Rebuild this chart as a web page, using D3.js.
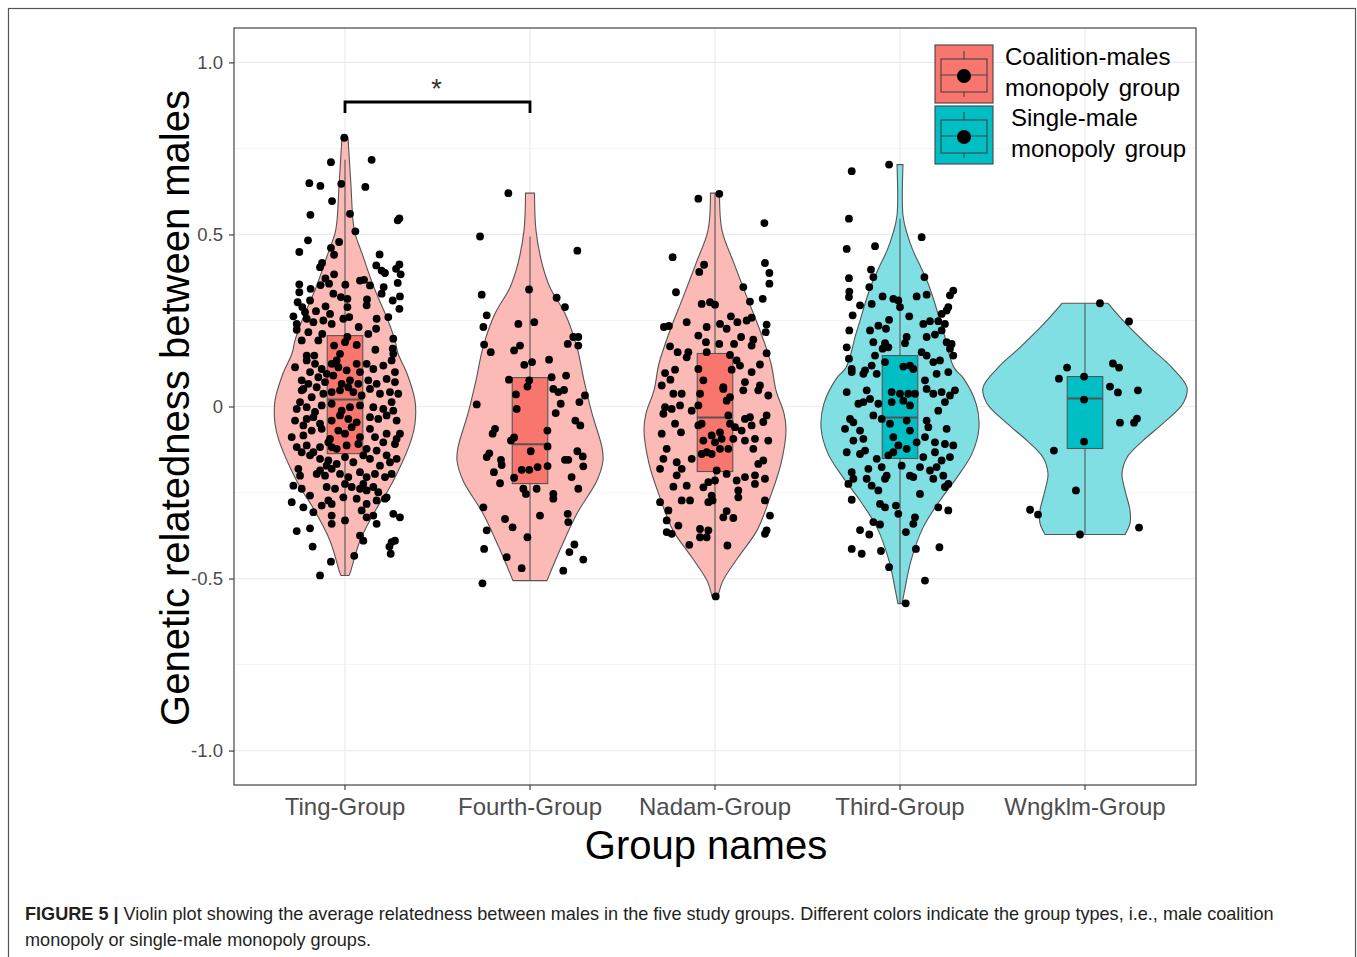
<!DOCTYPE html>
<html>
<head>
<meta charset="utf-8">
<script src="https://cdn.jsdelivr.net/npm/d3@7"></script>
<style>
  html, body { margin: 0; padding: 0; background: #ffffff; }
  svg { display: block; font-family: "Liberation Sans", Arial, Helvetica, sans-serif; }
</style>
</head>
<body>
<svg id="chart" width="1357" height="957"></svg>
<script>
// ---- data ---------------------------------------------------------------
const groups = ["Ting-Group", "Fourth-Group", "Nadam-Group", "Third-Group", "Wngklm-Group"];
const groupType = ["coalition", "coalition", "coalition", "single", "single"];
const legendLabels = [["Coalition-males", "monopoly group"], ["Single-male", "monopoly group"]];
const yTicks = [-1, -0.5, 0, 0.5, 1];
const yTickLabels = ["-1.0", "-0.5", "0", "0.5", "1.0"];
const yMinorTicks = [-0.75, -0.25, 0.25, 0.75];

// box plot statistics per group
const boxQ1 = [-0.137, -0.224, -0.189, -0.151, -0.122];
const boxMedian = [0.020, -0.110, -0.032, -0.032, 0.023];
const boxQ3 = [0.206, 0.084, 0.154, 0.148, 0.087];
const whiskerLow = [-0.491, -0.506, -0.552, -0.572, -0.372];
const whiskerHigh = [0.717, 0.494, 0.618, 0.546, 0.300];

// kernel density profiles: [relatedness, density]
const densityTing = [[0.781,0.03],[0.735,0.04],[0.64,0.06],[0.54,0.08],[0.503,0.10],[0.445,0.17],[0.346,0.29],[0.25,0.43],[0.192,0.50],[0.154,0.53],[0.096,0.62],[0.017,0.70],[-0.05,0.70],[-0.099,0.66],[-0.195,0.52],[-0.244,0.43],[-0.294,0.32],[-0.39,0.15],[-0.485,0.05],[-0.491,0.04]];
const densityFourth = [[0.62,0.045],[0.512,0.06],[0.416,0.12],[0.346,0.20],[0.27,0.35],[0.172,0.47],[0.076,0.54],[-0.02,0.62],[-0.119,0.72],[-0.157,0.73],[-0.215,0.67],[-0.311,0.47],[-0.41,0.31],[-0.506,0.17]];
const densityNadam = [[0.62,0.045],[0.512,0.07],[0.416,0.19],[0.317,0.32],[0.221,0.45],[0.125,0.56],[0.047,0.61],[-0.02,0.69],[-0.07,0.71],[-0.166,0.66],[-0.265,0.55],[-0.36,0.42],[-0.439,0.23],[-0.506,0.08],[-0.552,0.03]];
const densityThird = [[0.703,0.03],[0.555,0.03],[0.503,0.07],[0.453,0.13],[0.404,0.21],[0.358,0.28],[0.308,0.34],[0.259,0.39],[0.212,0.44],[0.113,0.54],[0.084,0.63],[0.009,0.76],[-0.061,0.79],[-0.137,0.72],[-0.206,0.57],[-0.273,0.40],[-0.352,0.23],[-0.448,0.11],[-0.544,0.04],[-0.573,0.02]];
const densityWngklm = [[0.3,0.23],[0.241,0.41],[0.172,0.65],[0.113,0.87],[0.055,1.02],[0.009,0.98],[-0.049,0.78],[-0.099,0.58],[-0.148,0.42],[-0.195,0.37],[-0.244,0.40],[-0.302,0.45],[-0.34,0.45],[-0.372,0.40]];

// individual pairs of males: [horizontal jitter (category units), relatedness]
const pointsTing = [[-0.004,0.781],[-0.076,0.71],[0.144,0.717],[-0.193,0.649],[-0.133,0.641],[-0.02,0.647],[0.11,0.638],[-0.07,0.597],[-0.187,0.557],[0.027,0.56],[0.294,0.547],[0.285,0.541],[0.056,0.509],[-0.2,0.483],[-0.032,0.478],[-0.247,0.449],[-0.076,0.461],[-0.059,0.441],[0.187,0.442],[-0.124,0.417],[-0.135,0.405],[0.169,0.41],[0.198,0.395],[0.216,0.388],[0.294,0.413],[0.276,0.4],[0.301,0.384],[-0.059,0.384],[-0.106,0.372],[-0.086,0.357],[0.081,0.366],[0.103,0.368],[0.135,0.352],[0.002,0.354],[-0.132,0.353],[-0.247,0.355],[0.285,0.359],[-0.186,0.342],[-0.247,0.332],[-0.063,0.328],[0.209,0.347],[0.198,0.328],[-0.022,0.318],[0.119,0.311],[-0.256,0.303],[-0.189,0.308],[0.013,0.313],[0.297,0.32],[0.258,0.308],[-0.231,0.289],[-0.105,0.291],[0.013,0.289],[0.117,0.294],[0.294,0.284],[-0.216,0.274],[-0.157,0.277],[-0.081,0.269],[-0.279,0.262],[-0.207,0.255],[-0.117,0.25],[-0.009,0.255],[0.023,0.26],[0.171,0.255],[0.234,0.26],[-0.261,0.24],[-0.171,0.245],[-0.072,0.24],[0.074,0.231],[-0.261,0.223],[-0.198,0.216],[-0.123,0.211],[0.126,0.211],[0.168,0.226],[0.261,0.197],[-0.234,0.192],[-0.144,0.192],[0.013,0.202],[-0.059,0.177],[0,0.187],[0.063,0.179],[0.164,0.165],[0.258,0.168],[-0.207,0.148],[-0.166,0.148],[-0.027,0.153],[0.261,0.153],
  [-0.27,0.114],[-0.207,0.134],[-0.162,0.124],[-0.126,0.109],[-0.072,0.124],[-0.036,0.114],[0.009,0.105],[0.063,0.124],[0.081,0.1],[0.117,0.124],[0.153,0.109],[0.207,0.119],[0.252,0.134],[0.27,0.1],[-0.189,0.1],[-0.099,0.095],[-0.045,0.134],
  [-0.234,0.076],[-0.198,0.066],[-0.144,0.085],[-0.108,0.071],[-0.063,0.09],[-0.018,0.066],[0.027,0.076],[0.072,0.066],[0.126,0.076],[0.171,0.066],[0.225,0.08],[0.27,0.071],[-0.225,0.051],[-0.153,0.056],[0.018,0.056],
  [-0.18,0.027],[-0.117,0.037],[-0.072,0.042],[-0.027,0.047],[0.045,0.042],[0.09,0.032],[0.135,0.051],[0.189,0.037],[0.243,0.042],[0.288,0.037],[-0.234,0.047],
  [-0.261,-0.007],[-0.207,-0.002],[-0.162,-0.016],[-0.126,0.003],[-0.072,0.008],[-0.018,-0.012],[0.027,-0.002],[0.081,0.003],[0.153,-0.002],[0.207,-0.007],[0.252,0.013],[0.261,-0.012],[-0.243,0.013],
  [-0.27,-0.041],[-0.207,-0.036],[-0.171,-0.031],[-0.135,-0.05],[-0.072,-0.041],[-0.027,-0.026],[0.018,-0.036],[0.063,-0.046],[0.135,-0.031],[0.18,-0.036],[0.225,-0.026],[0.279,-0.041],[-0.225,-0.055],
  [-0.288,-0.089],[-0.225,-0.084],[-0.18,-0.07],[-0.126,-0.065],[-0.081,-0.094],[-0.036,-0.07],[0,-0.079],[0.036,-0.06],[0.081,-0.089],[0.135,-0.065],[0.162,-0.089],[0.225,-0.079],[0.297,-0.079],[0.279,-0.094],
  [-0.261,-0.118],[-0.207,-0.113],[-0.135,-0.118],[-0.09,-0.104],[-0.045,-0.123],[0.009,-0.113],[0.072,-0.109],[0.117,-0.123],[0.171,-0.128],[0.207,-0.104],[0.27,-0.109],[-0.234,-0.133],[-0.171,-0.133],[-0.072,-0.118],
  [-0.252,-0.181],[-0.189,-0.142],[-0.135,-0.152],[-0.09,-0.157],[-0.045,-0.167],[0,-0.147],[0.045,-0.162],[0.099,-0.142],[0.135,-0.152],[0.189,-0.172],[0.243,-0.162],[0.225,-0.142],[0.279,-0.152],[-0.099,-0.172],
  [-0.243,-0.201],[-0.153,-0.196],[-0.108,-0.201],[-0.072,-0.181],[-0.027,-0.196],[0.018,-0.205],[0.081,-0.191],[0.117,-0.205],[0.162,-0.196],[0.216,-0.205],[0.252,-0.196],[-0.135,-0.186],
  [-0.279,-0.23],[-0.234,-0.239],[-0.189,-0.259],[-0.099,-0.234],[-0.054,-0.239],[0,-0.225],[0.036,-0.234],[0.081,-0.239],[0.117,-0.244],[0.153,-0.234],[0.18,-0.249],[0.225,-0.264],[0.099,-0.225],
  [-0.288,-0.278],[-0.225,-0.293],[-0.126,-0.288],[-0.09,-0.273],[-0.072,-0.283],[-0.009,-0.264],[0.063,-0.268],[0.117,-0.283],[0.171,-0.273],[0.216,-0.268],
  [-0.171,-0.307],[-0.072,-0.317],[-0.072,-0.341],[0,-0.331],[0.09,-0.302],[0.117,-0.322],[0.153,-0.317],[0.171,-0.341],[0.261,-0.312],[0.297,-0.322],
  [-0.261,-0.362],[-0.189,-0.354],[0.081,-0.375],[0.099,-0.39],[0.252,-0.394],[0.27,-0.39],[-0.175,-0.407],[0.24,-0.407],[0.247,-0.428],[-0.076,-0.451],[0.05,-0.434],[-0.135,-0.491]];

const pointsFourth = [[-0.117,0.62],[-0.27,0.494],[0.256,0.453],[-0.261,0.325],[-0.005,0.34],[0.144,0.316],[0.189,0.289],[-0.234,0.265],[-0.252,0.231],[-0.063,0.24],[0.023,0.245],[-0.248,0.18],[-0.212,0.158],[-0.054,0.177],[-0.086,0.163],[0.204,0.182],[0.234,0.202],[0.261,0.202],[0.261,0.177],[-0.031,0.121],[0.011,0.129],[0.103,0.136],[-0.114,0.078],[-0.004,0.076],[-0.014,0.058],[0.117,0.085],[0.195,0.09],[0.126,0.051],[0.153,0.042],[0.184,0.048],[0.297,0.032],[-0.076,0.035],[-0.288,0.006],[-0.072,-0.007],[0.139,-0.019],[0.166,0.008],[0.267,0.013],[-0.189,-0.065],[-0.202,-0.079],[-0.103,-0.099],[0.094,-0.07],[0.245,-0.041],[0.272,-0.055],[-0.22,-0.136],[-0.234,-0.147],[-0.157,-0.155],[-0.153,-0.17],[-0.195,-0.191],[-0.162,-0.223],[-0.086,-0.207],[-0.045,-0.184],[-0.004,-0.184],[0.041,-0.176],[0.095,-0.173],[0.095,-0.116],[0.004,-0.13],[-0.086,-0.09],[0.189,-0.155],[0.207,-0.155],[0.256,-0.13],[0.285,-0.145],[0.288,-0.174],[0.225,-0.205],[0.261,-0.239],[-0.036,-0.239],[-0.022,-0.254],[0.036,-0.239],[0.126,-0.254],[0.126,-0.268],[-0.252,-0.293],[-0.135,-0.327],[-0.094,-0.351],[-0.234,-0.36],[0.054,-0.317],[0.204,-0.312],[0.207,-0.336],[-0.014,-0.38],[-0.248,-0.414],[-0.126,-0.438],[-0.045,-0.47],[0.24,-0.401],[0.213,-0.423],[0.288,-0.445],[0.18,-0.477],[-0.257,-0.514]];

const pointsNadam = [[0.023,0.618],[-0.09,0.604],[0.267,0.533],[-0.229,0.434],[-0.059,0.412],[-0.085,0.391],[0.27,0.417],[0.294,0.388],[0.294,0.357],[-0.211,0.332],[0.153,0.347],[-0.072,0.298],[-0.027,0.303],[0,0.296],[0.189,0.305],[0.258,0.313],[-0.276,0.231],[-0.249,0.234],[-0.153,0.245],[-0.045,0.231],[0.027,0.24],[0.063,0.226],[0.086,0.262],[0.121,0.245],[0.171,0.25],[0.198,0.258],[0.279,0.238],[0.274,0.216],[-0.09,0.206],[-0.049,0.187],[0.023,0.182],[0.103,0.182],[0.141,0.202],[0.207,0.194],[0.198,0.177],[-0.243,0.175],[-0.202,0.158],[-0.144,0.158],[-0.153,0.143],[-0.045,0.158],[0.081,0.15],[0.117,0.134],[0.279,0.155],[0.243,0.122],[-0.27,0.097],[-0.216,0.107],[-0.241,0.078],[-0.09,0.109],[0.09,0.107],[0.135,0.119],[0.198,0.1],[0.162,0.071],[0.243,0.061],[-0.288,0.061],[-0.063,0.076],[0.045,0.056],
  [-0.225,0.037],[-0.18,0.037],[-0.081,0.037],[0.045,0.051],[0.081,0.027],[0.153,0.047],[0.234,0.047],[0.288,0.032],[-0.27,-0.002],[-0.234,-0.007],[-0.189,0.003],[-0.126,-0.012],[-0.09,0.003],[0.063,0.017],[-0.279,-0.021],[0.072,-0.026],[0.162,-0.036],[0.189,-0.031],[0.279,-0.026],[-0.216,-0.05],[-0.09,-0.055],[-0.072,-0.05],[0.081,-0.05],[0.108,-0.06],[0.144,-0.07],[0.198,-0.055],[0.261,-0.045],[-0.288,-0.079],[-0.184,-0.075],[-0.018,-0.084],[0.027,-0.075],[-0.063,-0.099],[0,-0.104],[0.036,-0.094],[0.099,-0.094],[0.162,-0.099],[0.216,-0.094],[0.288,-0.099],[-0.261,-0.123],[-0.045,-0.133],[0.027,-0.123],[0.072,-0.123],[0.207,-0.123],[-0.279,-0.152],[-0.207,-0.162],[-0.126,-0.152],[-0.072,-0.138],[-0.018,-0.138],[0.234,-0.167],[0.261,-0.157],[-0.297,-0.181],[-0.18,-0.181],[0.009,-0.186],[0.063,-0.196],[0.162,-0.205],[0.216,-0.2],[-0.207,-0.2],[-0.225,-0.233],[-0.153,-0.23],[-0.063,-0.235],[-0.036,-0.22],[0,-0.215],[0.117,-0.215],[0.216,-0.225],[0.27,-0.21],[0.126,-0.244],[-0.018,-0.259],[0.126,-0.264],[-0.297,-0.278],[-0.18,-0.273],[-0.135,-0.273],[-0.036,-0.278],[-0.013,-0.273],[0.27,-0.273],[-0.252,-0.302],[0.063,-0.304],[0.045,-0.322],[0.099,-0.324],[0.297,-0.317],[-0.261,-0.331],[-0.198,-0.346],[-0.261,-0.365],[-0.234,-0.37],[-0.081,-0.356],[-0.036,-0.36],[-0.081,-0.38],[-0.045,-0.38],[0.279,-0.36],[0.27,-0.37],[-0.139,-0.402],[0.067,-0.404],[0.004,-0.552]];

const pointsThird = [[-0.059,0.703],[-0.261,0.684],[-0.276,0.546],[0.117,0.492],[-0.288,0.458],[-0.135,0.466],[-0.157,0.398],[-0.144,0.376],[-0.276,0.373],[0.132,0.376],[-0.166,0.347],[-0.274,0.334],[-0.276,0.318],[-0.094,0.32],[-0.036,0.313],[-0.009,0.308],[0,0.289],[0.09,0.32],[0.144,0.325],[0.288,0.337],[0.27,0.323],[-0.216,0.294],[-0.153,0.298],[0.261,0.289],[0.252,0.279],[-0.256,0.265],[0.05,0.262],[-0.059,0.252],[0.225,0.269],[0.126,0.24],[0.162,0.248],[0.207,0.248],[0.243,0.24],[-0.117,0.235],[-0.076,0.226],[-0.274,0.221],[-0.162,0.221],[0.225,0.221],[0.036,0.202],[0.144,0.202],[0.189,0.209],[0.027,0.184],[-0.144,0.187],[-0.081,0.184],[-0.063,0.172],[0.252,0.187],[0.279,0.182],[0.27,0.168],[-0.288,0.172],[-0.135,0.148],[-0.094,0.168],[0.117,0.158],[0.144,0.148],[0.288,0.148],[-0.276,0.139],[0.18,0.129],[0.216,0.134],[-0.153,0.119],[-0.081,0.129],[0.018,0.116],[0.054,0.119],[-0.261,0.109],[-0.189,0.105],
  [-0.261,0.1],[-0.198,0.095],[-0.126,0.095],[0.072,0.109],[0.135,0.076],[0.198,0.095],[0.261,0.1],[0.297,0.047],[-0.288,0.042],[-0.18,0.047],[-0.045,0.042],[0,0.037],[0.045,0.037],[0.081,0.037],[0.144,0.051],[0.18,0.037],[0.225,0.042],[0.27,0.032],[-0.225,0.008],[-0.198,0.013],[-0.162,0.022],[-0.117,0.008],[-0.045,0.013],[0.018,0.017],[0.054,0.003],[0.207,-0.012],[0.243,0.013],[-0.27,-0.036],[-0.252,-0.046],[-0.144,-0.026],[-0.099,-0.036],[-0.054,-0.05],[0.036,-0.041],[0.054,-0.07],[0.144,-0.041],[0.153,-0.06],[0.252,-0.065],[-0.297,-0.065],[-0.216,-0.07],[-0.252,-0.099],[-0.198,-0.094],[-0.036,-0.089],[-0.009,-0.113],[0.036,-0.123],[0.09,-0.104],[0.135,-0.089],[0.189,-0.104],[0.243,-0.109],[0.288,-0.113],[-0.288,-0.133],[-0.216,-0.138],[-0.189,-0.128],[-0.126,-0.152],[-0.063,-0.142],[-0.036,-0.133],[0.189,-0.133],[0.126,-0.147],[0.225,-0.157],[0.27,-0.147],[-0.261,-0.191],[-0.171,-0.181],[-0.099,-0.176],[-0.072,-0.201],[0.009,-0.172],[0.054,-0.201],[0.108,-0.176],[0.162,-0.186],[0.198,-0.176],[0.234,-0.201],[-0.18,-0.21],[-0.252,-0.21],[-0.153,-0.23],[-0.081,-0.21],[0.072,-0.205],[0.18,-0.21],[0.243,-0.234],[0.261,-0.225],[-0.279,-0.225],[-0.117,-0.244],[0.108,-0.254],[-0.261,-0.271],[-0.108,-0.283],[-0.081,-0.293],[-0.022,-0.288],[-0.009,-0.312],[0.207,-0.293],[0.261,-0.302],[-0.144,-0.336],[-0.108,-0.343],[0.081,-0.322],[0.072,-0.341],[-0.216,-0.359],[-0.166,-0.372],[0.032,-0.365],[-0.261,-0.414],[-0.207,-0.428],[-0.103,-0.42],[0.086,-0.414],[0.213,-0.409],[-0.059,-0.467],[0.135,-0.506],[0.031,-0.572]];

const pointsWngklm = [[0.081,0.3],[0.238,0.247],[-0.097,0.113],[-0.141,0.081],[-0.005,0.087],[0.151,0.125],[0.184,0.113],[0.135,0.058],[0.178,0.041],[0.286,0.047],[-0.005,0.02],[0.189,-0.047],[0.265,-0.047],[0.281,-0.035],[-0.005,-0.102],[-0.168,-0.128],[-0.049,-0.244],[-0.297,-0.3],[-0.254,-0.314],[-0.027,-0.372],[0.292,-0.352]];

const densities = [densityTing, densityFourth, densityNadam, densityThird, densityWngklm];
const points = [pointsTing, pointsFourth, pointsNadam, pointsThird, pointsWngklm];

// ---- drawing ------------------------------------------------------------
const fillViolin = { coalition: "#FBBAB6", single: "#80DFE2" };
const fillBox = { coalition: "#F8766D", single: "#00BFC4" };
const outline = "#555555";

const svg = d3.select("#chart");
const panel = { left: 234, right: 1196, top: 28, bottom: 785 };

const x = d3.scaleBand().domain(groups)
  .range([panel.left, panel.right]).paddingInner(0).paddingOuter(0.1);
const cx = g => x(g) + x.bandwidth() / 2;
const y = d3.scaleLinear().domain([-1.1, 1.1]).range([panel.bottom, panel.top]);
const halfWidth = d3.scaleLinear().domain([0, 1]).range([0, 100]);
const boxHalf = 0.096 * x.step();

// outer figure frame
svg.append("rect").attr("x", 8.5).attr("y", 8.5).attr("width", 1347).attr("height", 960)
  .attr("fill", "none").attr("stroke", "#555").attr("stroke-width", 1.2);

// grid
const grid = svg.append("g");
grid.selectAll(".minor").data(yMinorTicks).join("line")
  .attr("x1", panel.left).attr("x2", panel.right)
  .attr("y1", d => y(d)).attr("y2", d => y(d))
  .attr("stroke", "#F0F0F0").attr("stroke-width", 0.8);
grid.selectAll(".major").data(yTicks).join("line")
  .attr("x1", panel.left).attr("x2", panel.right)
  .attr("y1", d => y(d)).attr("y2", d => y(d))
  .attr("stroke", "#EBEBEB").attr("stroke-width", 1.2);
grid.selectAll(".vert").data(groups).join("line")
  .attr("x1", d => cx(d)).attr("x2", d => cx(d))
  .attr("y1", panel.top).attr("y2", panel.bottom)
  .attr("stroke", "#EBEBEB").attr("stroke-width", 1.2);

// violins
groups.forEach((g, i) => {
  const c = cx(g);
  const area = d3.area()
    .y(d => y(d[0]))
    .x0(d => c - halfWidth(d[1]))
    .x1(d => c + halfWidth(d[1]))
    .curve(d3.curveCatmullRom.alpha(0.5));
  svg.append("path").datum(densities[i]).attr("d", area)
    .attr("fill", fillViolin[groupType[i]])
    .attr("stroke", outline).attr("stroke-width", 1.1);
});

// box plots
groups.forEach((g, i) => {
  const c = cx(g);
  const b = svg.append("g");
  b.append("line").attr("x1", c).attr("x2", c)
    .attr("y1", y(whiskerHigh[i])).attr("y2", y(boxQ3[i]))
    .attr("stroke", outline).attr("stroke-width", 1.1);
  b.append("line").attr("x1", c).attr("x2", c)
    .attr("y1", y(boxQ1[i])).attr("y2", y(whiskerLow[i]))
    .attr("stroke", outline).attr("stroke-width", 1.1);
  b.append("rect").attr("x", c - boxHalf).attr("width", 2 * boxHalf)
    .attr("y", y(boxQ3[i])).attr("height", y(boxQ1[i]) - y(boxQ3[i]))
    .attr("fill", fillBox[groupType[i]])
    .attr("stroke", outline).attr("stroke-width", 1.1);
  b.append("line").attr("x1", c - boxHalf).attr("x2", c + boxHalf)
    .attr("y1", y(boxMedian[i])).attr("y2", y(boxMedian[i]))
    .attr("stroke", outline).attr("stroke-width", 2);
});

// jittered points
groups.forEach((g, i) => {
  const c = cx(g);
  svg.append("g").selectAll("circle").data(points[i]).join("circle")
    .attr("cx", d => c + d[0] * x.step())
    .attr("cy", d => y(d[1]))
    .attr("r", 3.9)
    .attr("fill", "#000");
});

// panel border
svg.append("rect").attr("x", panel.left).attr("y", panel.top)
  .attr("width", panel.right - panel.left).attr("height", panel.bottom - panel.top)
  .attr("fill", "none").attr("stroke", "#333").attr("stroke-width", 1.1);

// axes
const yAxis = svg.append("g").attr("transform", `translate(${panel.left},0)`)
  .call(d3.axisLeft(y).tickValues(yTicks).tickSize(5).tickPadding(6)
    .tickFormat((d, i) => yTickLabels[i]));
yAxis.select(".domain").remove();
yAxis.selectAll(".tick line").attr("stroke", "#333").attr("stroke-width", 1.1);
yAxis.selectAll(".tick text").attr("fill", "#4D4D4D").attr("font-size", 18.5)
  .attr("font-family", "Liberation Sans, Arial, sans-serif");

const xAxis = svg.append("g").attr("transform", `translate(0,${panel.bottom})`)
  .call(d3.axisBottom(x).tickSize(5).tickPadding(8));
xAxis.select(".domain").remove();
xAxis.selectAll(".tick line").attr("stroke", "#333").attr("stroke-width", 1.1);
xAxis.selectAll(".tick text").attr("fill", "#4D4D4D").attr("font-size", 24)
  .attr("font-family", "Liberation Sans, Arial, sans-serif");

// axis titles
svg.append("text").attr("transform", `translate(189,408) rotate(-90)`)
  .attr("text-anchor", "middle").attr("font-size", 40).attr("fill", "#000")
  .text("Genetic relatedness between males");
svg.append("text").attr("x", 706).attr("y", 859)
  .attr("text-anchor", "middle").attr("font-size", 40).attr("fill", "#000")
  .text("Group names");

// significance bracket between Ting-Group and Fourth-Group
const x1 = cx(groups[0]), x2 = cx(groups[1]);
svg.append("path")
  .attr("d", `M${x1},113 V102 H${x2} V113`)
  .attr("fill", "none").attr("stroke", "#000").attr("stroke-width", 2.8);
svg.append("text").attr("x", (x1 + x2) / 2 - 1).attr("y", 98)
  .attr("text-anchor", "middle").attr("font-size", 27).attr("fill", "#333").text("*");

// legend
const legend = svg.append("g").attr("transform", "translate(935,45)");
const legendIndent = [70, 76];
["coalition", "single"].forEach((t, k) => {
  const gk = legend.append("g").attr("transform", `translate(0,${k * 61})`);
  gk.append("rect").attr("x", 0).attr("y", 0).attr("width", 58).attr("height", 58)
    .attr("fill", fillBox[t]).attr("stroke", "#444").attr("stroke-width", 1.1);
  gk.append("line").attr("x1", 29).attr("x2", 29).attr("y1", 6).attr("y2", 52)
    .attr("stroke", "#444").attr("stroke-width", 1.1);
  gk.append("rect").attr("x", 6).attr("y", 14).attr("width", 46).attr("height", 33)
    .attr("fill", fillBox[t]).attr("stroke", "#444").attr("stroke-width", 1.1);
  gk.append("line").attr("x1", 6).attr("x2", 52).attr("y1", 30).attr("y2", 30)
    .attr("stroke", "#444").attr("stroke-width", 1.1);
  gk.append("circle").attr("cx", 29).attr("cy", 31).attr("r", 7).attr("fill", "#000");
  legendLabels[k].forEach((line, j) => {
    gk.append("text").attr("x", legendIndent[k]).attr("y", 20 + j * 31)
      .attr("font-size", 24).attr("fill", "#000").attr("word-spacing", 3)
      .text(line);
  });
});

// caption
const cap = svg.append("g").attr("fill", "#231F20").attr("font-size", 18.1);
const l1 = cap.append("text").attr("x", 25).attr("y", 920);
l1.append("tspan").attr("font-weight", "bold").text("FIGURE 5 | ");
l1.append("tspan").text("Violin plot showing the average relatedness between males in the five study groups. Different colors indicate the group types, i.e., male coalition");
cap.append("text").attr("x", 25).attr("y", 946)
  .text("monopoly or single-male monopoly groups.");
</script>
</body>
</html>
